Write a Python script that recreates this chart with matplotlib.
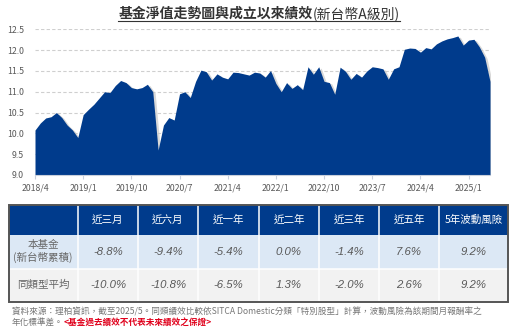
import numpy as np
import matplotlib
matplotlib.use("Agg")
import matplotlib.pyplot as plt
from matplotlib.patches import Rectangle

plt.rcParams['font.family'] = ['Noto Sans CJK TC', 'DejaVu Sans']

# 月淨值 2018/4 ~ 2025/5
nav = [10.08, 10.25, 10.37, 10.40, 10.50, 10.38, 10.20, 10.08, 9.90, 10.45,
       10.58, 10.70, 10.85, 11.00, 10.98, 11.15, 11.27, 11.22, 11.10, 11.07,
       11.10, 11.18, 11.00, 9.60, 10.20, 10.38, 10.32, 10.95, 11.00, 10.86,
       11.25, 11.52, 11.48, 11.28, 11.43, 11.35, 11.31, 11.47, 11.46, 11.43,
       11.40, 11.47, 11.45, 11.35, 11.51, 11.20, 11.00, 11.22, 11.08, 11.17,
       11.05, 11.60, 11.42, 11.60, 11.25, 11.22, 10.94, 11.59, 11.49, 11.30,
       11.44, 11.35, 11.50, 11.60, 11.58, 11.55, 11.30, 11.55, 11.60, 12.02,
       12.05, 12.04, 11.95, 12.06, 12.03, 12.15, 12.22, 12.27, 12.30, 12.34,
       12.12, 12.24, 12.26, 12.08, 11.83, 11.25]
x_labels = ['2018/4', '2019/1', '2019/10', '2020/7', '2021/4',
            '2022/1', '2022/10', '2023/7', '2024/4', '2025/1']
y_ticks = [9.0, 9.5, 10.0, 10.5, 11.0, 11.5, 12.0, 12.5]

col_headers = ['近三月', '近六月', '近一年', '近二年', '近三年', '近五年', '5年波動風險']
row_labels = ['本基金\n(新台幣累積)', '同類型平均']
fund_ret = ['-8.8%', '-9.4%', '-5.4%', '0.0%', '-1.4%', '7.6%', '9.2%']
peer_ret = ['-10.0%', '-10.8%', '-6.5%', '1.3%', '-2.0%', '2.6%', '9.2%']

BLUE = '#003b8c'
GRAY_TXT = '#595959'

fig = plt.figure(figsize=(5.12, 3.3), dpi=100)
W, H = 512, 330

# ---- 淨值走勢 ----
ax = fig.add_axes([35 / W, 1 - 175 / H, 455 / W, 145.7 / H])
months = np.arange(len(nav))
nav = np.array(nav)
ax.fill_between(months + 0.45, 9.0, nav - 0.03, color='#c8c8c8', alpha=0.7,
                lw=0, zorder=1)
ax.fill_between(months, 9.0, nav, color=BLUE, lw=0, zorder=2)
ax.set_xlim(0, len(nav) - 1)
ax.set_ylim(9.0, 12.5)
ax.set_yticks(y_ticks)
ax.set_yticklabels([f'{v:.1f}' for v in y_ticks])
ax.set_xticks(np.arange(len(x_labels)) * 9)
ax.set_xticklabels(x_labels)
ax.grid(axis='y', color='#cfcfcf', ls=(0, (3, 2)), lw=0.8, zorder=0)
for s in ['top', 'right', 'left']:
    ax.spines[s].set_visible(False)
ax.spines['bottom'].set_color('#c9d0dc')
ax.tick_params(axis='y', length=0, labelsize=6.3, labelcolor=GRAY_TXT, pad=8)
ax.tick_params(axis='x', length=3, color='#c9d0dc', labelsize=6.3,
               labelcolor=GRAY_TXT, pad=3)
ax.set_axisbelow(True)

# ---- 標題與表格 ----
ov = fig.add_axes([0, 0, 1, 1])
ov.set_xlim(0, W)
ov.set_ylim(H, 0)
ov.axis('off')

t1 = ov.text(0, 14, '基金淨值走勢圖與成立以來績效', fontsize=10, weight='bold',
             color='#333333', va='center', ha='left')
t2 = ov.text(0, 14, '(新台幣A級別)', fontsize=10, color='#333333',
             va='center', ha='left')
r = fig.canvas.get_renderer()
w1 = t1.get_window_extent(r).width
w2 = t2.get_window_extent(r).width
x0 = (W - (w1 + w2)) / 2 + 3
t1.set_x(x0)
t2.set_x(x0 + w1)
ov.plot([x0, x0 + w1 + w2], [20.5, 20.5], color='#333333', lw=0.8)

tl, tr, tt = 8.5, 508, 204.5
row_h = [30.5, 33.5, 33]
col_x = [tl, 78, 138, 198, 259, 319, 379, 439, tr]
fills = [BLUE, '#dce8f5', '#f2f2f2']
y = tt
for ri, h in enumerate(row_h):
    ov.add_patch(Rectangle((tl, y), tr - tl, h, facecolor=fills[ri],
                           edgecolor='none', zorder=1))
    for ci in range(len(col_x) - 1):
        cx = (col_x[ci] + col_x[ci + 1]) / 2
        cy = y + h / 2
        if ri == 0:
            if ci > 0:
                ov.text(cx, cy, col_headers[ci - 1], color='white', fontsize=7.6,
                        ha='center', va='center', zorder=3)
        elif ci == 0:
            ov.text(cx, cy, row_labels[ri - 1], color='#666666', fontsize=7.6,
                    ha='center', va='center', linespacing=1.15, zorder=3)
        else:
            vals = fund_ret if ri == 1 else peer_ret
            ov.text(cx, cy, vals[ci - 1], color=GRAY_TXT, fontsize=8.2,
                    style='italic', family=['Liberation Sans', 'DejaVu Sans'],
                    ha='center', va='center', zorder=3)
    y += h
for xc in col_x[1:-1]:
    ov.plot([xc, xc], [tt, y], color='white', lw=1.1, zorder=2)
ov.plot([tl, tl + 0.01], [tt + row_h[0], tt + row_h[0]], lw=0)
ov.plot([tl, tr], [tt + row_h[0] + row_h[1]] * 2, color='white', lw=1.1, zorder=2)
ov.add_patch(Rectangle((tl, tt), tr - tl, y - tt, facecolor='none',
                       edgecolor='#555555', lw=1.4, zorder=4))

# ---- 附註 ----
ov.text(12, 311.5, '資料來源：理柏資訊，截至2025/5。同類績效比較依SITCA Domestic分類「特別股型」計算，波動風險為該期間月報酬率之',
        fontsize=6.2, color='#777777', ha='left', va='center')
n1 = ov.text(12, 322.5, '年化標準差。', fontsize=6.2, color='#777777',
             ha='left', va='center')
wn = n1.get_window_extent(r).width
ov.text(12 + wn, 322.5, '<基金過去績效不代表未來績效之保證>', fontsize=6.2,
        color='#e0001b', weight='bold', ha='left', va='center')

fig.savefig('out.png', dpi=100)
